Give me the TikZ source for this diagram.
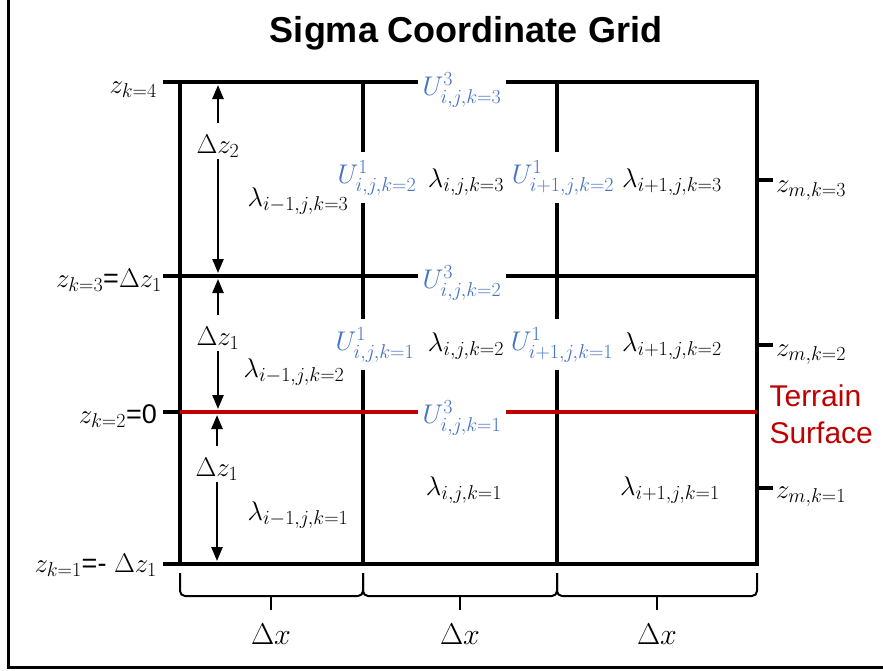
\RequirePackage{fix-cm}
\documentclass[tikz,border=0pt]{standalone}
\usepackage{amsmath}
\usepackage{amssymb}
\usepackage{xcolor}
\usepackage{fontspec}
\usepackage{tikz}
\usetikzlibrary{arrows.meta}
\newfontfamily\arialfont{Liberation Sans}
\DeclareMathSizes{27}{27}{20}{15}
\DeclareMathSizes{30}{30}{22}{16}
\definecolor{ublue}{RGB}{68,114,196}
\definecolor{terrainred}{RGB}{192,0,0}
\tikzset{
  gridline/.style={line width=4.5pt},
  tickline/.style={line width=4pt},
  braceline/.style={line width=2pt, rounded corners=5pt},
  mathlabel/.style={font=\fontsize{27}{30}\selectfont, inner sep=0pt, anchor=base},
  ulabel/.style={mathlabel, text=ublue, fill=white, inner xsep=5pt, inner ysep=8pt},
  dzlabel/.style={mathlabel, text height=30pt, text depth=6pt},
  dzarrow/.style={line width=2.5pt, -{Triangle[width=11pt,length=14pt]}},
}

\begin{document}
\begin{tikzpicture}[x=1pt, y=-1pt]
      \useasboundingbox (0,0) rectangle (883,670);
      \draw [line width=3pt] (8,-2) -- (8,667) -- (885,667);

      \draw [gridline] (163,82) -- (757,82);
      \draw [gridline] (163,276) -- (757,276);
      \draw [gridline] (163,564) -- (757,564);
      \draw [gridline] (163,412) -- (180,412);
      \draw [gridline] (180,80) -- (180,566);
      \draw [gridline] (363,80) -- (363,566);
      \draw [gridline] (557,80) -- (557,566);
      \draw [gridline] (757,80) -- (757,566);
      \draw [gridline, terrainred] (180,412) -- (757,412);

      \draw [tickline] (757,180) -- (773,180);
      \draw [tickline] (757,345) -- (773,345);
      \draw [tickline] (757,488) -- (773,488);

      \draw [braceline] (180,573) -- (180,596) -- (363,596) -- (363,573);
      \draw [braceline] (363,573) -- (363,596) -- (557,596) -- (557,573);
      \draw [braceline] (557,573) -- (557,596) -- (757,596) -- (757,573);
      \draw [line width=2pt] (271,596) -- (271,610);
      \draw [line width=2pt] (460,596) -- (460,610);
      \draw [line width=2pt] (657,596) -- (657,610);

      \node (Title) [font=\arialfont\bfseries\fontsize{36}{40}\selectfont] at (466,33) {Sigma Coordinate Grid};

      \node (ZkFour) [mathlabel, anchor=base east] at (157,93) {$z_{k=4}$};
      \node (ZkThree) [mathlabel, anchor=base east] at (162,287) {$z_{k=3}${\arialfont =}$\Delta z_1$};
      \node (ZkTwo) [mathlabel, anchor=base east] at (157,423) {$z_{k=2}${\arialfont =0}};
      \node (ZkOne) [mathlabel, anchor=base east] at (157,572) {$z_{k=1}${\arialfont =- }$\Delta z_1$};

      \node (ZmThree) [mathlabel, anchor=base west] at (776,192) {$z_{m,k=3}$};
      \node (ZmTwo) [mathlabel, anchor=base west] at (776,356) {$z_{m,k=2}$};
      \node (ZmOne) [mathlabel, anchor=base west] at (776,498) {$z_{m,k=1}$};

      \node (Terrain) [font=\arialfont\fontsize{30}{37}\selectfont, text=terrainred, align=left, anchor=west] at (766,414) {Terrain\\Surface};

      \node (UThreeK3) [ulabel] at (462,95) {$U^3_{i,j,k=3}$};
      \node (UThreeK2) [ulabel] at (462,288) {$U^3_{i,j,k=2}$};
      \node (UThreeK1) [ulabel] at (462,423) {$U^3_{i,j,k=1}$};
      \node (UOneK2) [ulabel] at (377,183) {$U^1_{i,j,k=2}$};
      \node (UOneK1) [ulabel] at (375,350) {$U^1_{i,j,k=1}$};
      \node (UOneNextK2) [ulabel] at (563,183) {$U^1_{i+1,j,k=2}$};
      \node (UOneNextK1) [ulabel] at (562,350) {$U^1_{i+1,j,k=1}$};

      \node (LamPrevK3) [mathlabel] at (298,206) {$\lambda_{i-1,j,k=3}$};
      \node (LamPrevK2) [mathlabel] at (294,377) {$\lambda_{i-1,j,k=2}$};
      \node (LamPrevK1) [mathlabel] at (298,520) {$\lambda_{i-1,j,k=1}$};
      \node (LamK3) [mathlabel] at (466,187) {$\lambda_{i,j,k=3}$};
      \node (LamK2) [mathlabel] at (466,351) {$\lambda_{i,j,k=2}$};
      \node (LamK1) [mathlabel] at (464,495) {$\lambda_{i,j,k=1}$};
      \node (LamNextK3) [mathlabel] at (672,187) {$\lambda_{i+1,j,k=3}$};
      \node (LamNextK2) [mathlabel] at (672,351) {$\lambda_{i+1,j,k=2}$};
      \node (LamNextK1) [mathlabel] at (670,495) {$\lambda_{i+1,j,k=1}$};

      \node (DzTwo) [dzlabel] at (218,153) {$\Delta z_2$};
      \node (DzOneUp) [dzlabel] at (218,345) {$\Delta z_1$};
      \node (DzOneLow) [dzlabel] at (217,476) {$\Delta z_1$};
      \coordinate (DzTwoTop) at (218,85);
      \coordinate (DzTwoBot) at (218,273);
      \coordinate (DzOneUpTop) at (218,279);
      \coordinate (DzOneUpBot) at (218,409);
      \coordinate (DzOneLowTop) at (217,415);
      \coordinate (DzOneLowBot) at (217,561);
      \draw [dzarrow] (DzTwo) -- (DzTwoTop);
      \draw [dzarrow] (DzTwo) -- (DzTwoBot);
      \draw [dzarrow] (DzOneUp) -- (DzOneUpTop);
      \draw [dzarrow] (DzOneUp) -- (DzOneUpBot);
      \draw [dzarrow] (DzOneLow) -- (DzOneLowTop);
      \draw [dzarrow] (DzOneLow) -- (DzOneLowBot);

      \node (DxLeft) [mathlabel, font=\fontsize{30}{34}\selectfont] at (271,644) {$\Delta x$};
      \node (DxMid) [mathlabel, font=\fontsize{30}{34}\selectfont] at (460,644) {$\Delta x$};
      \node (DxRight) [mathlabel, font=\fontsize{30}{34}\selectfont] at (657,644) {$\Delta x$};
    \end{tikzpicture}
\end{document}
